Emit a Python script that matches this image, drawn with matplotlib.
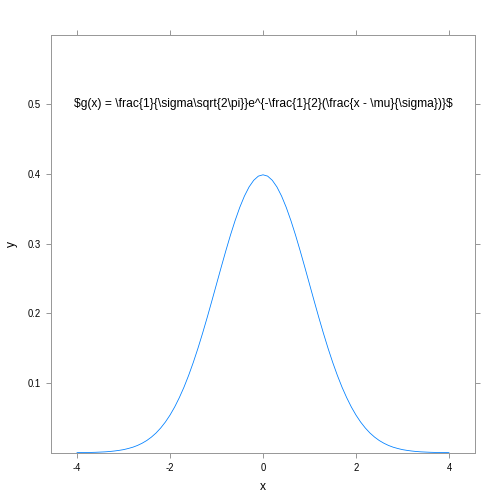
import numpy as np
import matplotlib.pyplot as plt

# density values, x from 0 to 4 in steps of 0.1 (curve is symmetric)
x_right = [0.0, 0.1, 0.2, 0.3, 0.4, 0.5, 0.6, 0.7, 0.8, 0.9, 1.0,
           1.1, 1.2, 1.3, 1.4, 1.5, 1.6, 1.7, 1.8, 1.9, 2.0,
           2.1, 2.2, 2.3, 2.4, 2.5, 2.6, 2.7, 2.8, 2.9, 3.0,
           3.1, 3.2, 3.3, 3.4, 3.5, 3.6, 3.7, 3.8, 3.9, 4.0]
y_right = [0.3989, 0.3970, 0.3910, 0.3814, 0.3683, 0.3521, 0.3332, 0.3123, 0.2897, 0.2661, 0.2420,
           0.2179, 0.1942, 0.1714, 0.1497, 0.1295, 0.1109, 0.0940, 0.0790, 0.0656, 0.0540,
           0.0440, 0.0355, 0.0283, 0.0224, 0.0175, 0.0136, 0.0104, 0.0079, 0.0060, 0.0044,
           0.0033, 0.0024, 0.0017, 0.0012, 0.0009, 0.0006, 0.0004, 0.0003, 0.0002, 0.0001]
xticks = [-4, -2, 0, 2, 4]
yticks = [0.1, 0.2, 0.3, 0.4, 0.5]
label = r'$g(x) = \frac{1}{\sigma\sqrt{2\pi}}e^{-\frac{1}{2}(\frac{x - \mu}{\sigma})}$'

x = [-v for v in x_right[:0:-1]] + x_right
y = y_right[:0:-1] + y_right

plt.rcParams['font.family'] = ['Liberation Sans', 'DejaVu Sans']

fig = plt.figure(figsize=(7, 7), dpi=72)
ax = fig.add_axes([51 / 504, 1 - 452.7 / 504, 424 / 504, 418 / 504])
ax.plot(x, y, color='#0080ff', lw=0.8)
ax.text(0, 0.5, label, ha='center', va='center', fontsize=12, parse_math=False)

ax.set_xlim(-4.56, 4.56)
ax.set_ylim(0, 0.6)
ax.set_xticks(xticks)
ax.set_xticklabels(['-4', '-2', '0', '2', '4'])
ax.set_yticks(yticks)
ax.set_yticklabels(['0.1', '0.2', '0.3', '0.4', '0.5'])
ax.tick_params(direction='out', length=5, width=1, color='#999999', labelsize=9.5,
               top=True, right=True, pad=5)
for s in ax.spines.values():
    s.set_color('#999999')
    s.set_linewidth(1)
ax.set_xlabel('x', fontsize=12, labelpad=8)
ax.set_ylabel('y', fontsize=12, labelpad=10)

fig.savefig('out.png', dpi=72)
